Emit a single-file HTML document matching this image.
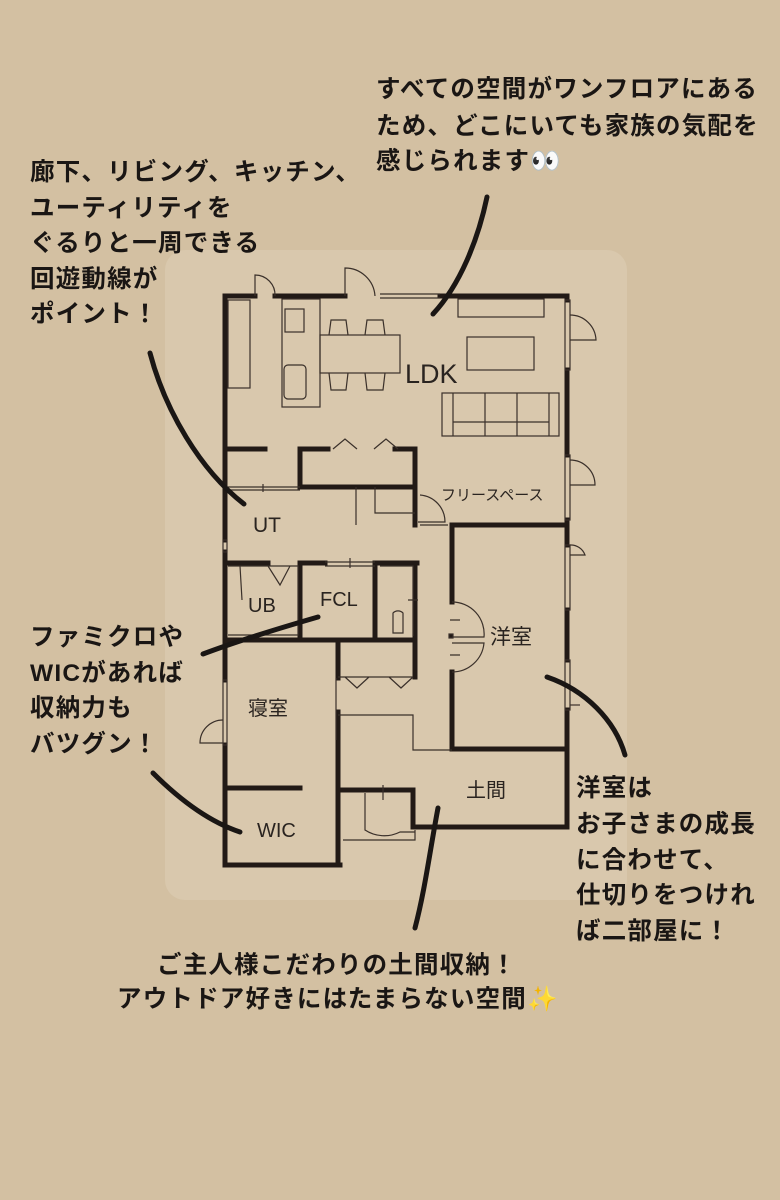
<!DOCTYPE html>
<html><head><meta charset="utf-8"><style>
html,body{margin:0;padding:0;background:#d3c0a2;}
svg{display:block}
.t{font-family:"Liberation Sans","Noto Sans CJK JP",sans-serif;font-size:24.5px;letter-spacing:1.2px;fill:#1a1614;font-weight:bold}
.r{font-family:"Liberation Sans","Noto Sans CJK JP",sans-serif;fill:#2a2420}
</style></head><body>
<svg width="780" height="1200" viewBox="0 0 780 1200" xmlns="http://www.w3.org/2000/svg">
<rect width="780" height="1200" fill="#d3c0a2"/>
<rect x="165" y="250" width="462" height="650" fill="#d9c8ad" rx="20"/>
<g stroke="#221a16" stroke-width="5" fill="none" stroke-linecap="square">
<path d="M225 296H255M275 296H345M440 296H567"/>
<path d="M567 296V300M567 370V455M567 520V545M567 610V660M567 710V827"/>
<path d="M225 296V540M225 552V680M225 745V865H340"/>
<path d="M338 640V678M338 712V865"/>
<path d="M338 790H413V827H565"/>
<path d="M452 525V602M452 672V749H567M452 525H567"/>
<path d="M225 449H265"/>
<path d="M300 449V487H415V449H395M300 449H328"/>
<path d="M415 487V525"/>
<path d="M225 563H268M300 563H325M375 563H417"/>
<path d="M300 563V640M375 563V640M415 563V677M225 640H415"/>
<path d="M225 788H300"/>
</g>
<g stroke="#3a302a" stroke-width="1.2" fill="none">
<path d="M380 294H440M380 298H440"/>
<path d="M255 296V275A20 20 0 0 1 275 296M345 296V268A30 30 0 0 1 375 296"/>
<rect x="565" y="300" width="5" height="70"/><path d="M570 340H596A26 26 0 0 0 570 315"/>
<rect x="565" y="455" width="5" height="65"/><path d="M570 485H595A25 25 0 0 0 570 460"/>
<rect x="565" y="545" width="5" height="65"/><path d="M570 555H585A15 15 0 0 0 570 545"/>
<rect x="565" y="660" width="5" height="50"/><path d="M570 705H580"/>
<rect x="223" y="680" width="4" height="65"/><path d="M223 743H200A23 23 0 0 1 223 720"/>
<rect x="223" y="540" width="4" height="12"/>
<rect x="228" y="300" width="22" height="88"/>
<rect x="282" y="299" width="38" height="108"/>
<rect x="285" y="309" width="19" height="23"/><rect x="284" y="365" width="22" height="34" rx="4"/>
<rect x="320" y="335" width="80" height="38"/>
<path d="M329 335L331 320H346L348 335M365 335L367 320H383L385 335M329 373L331 390H346L348 373M365 373L367 390H383L385 373"/>
<rect x="458" y="299" width="86" height="18"/>
<rect x="467" y="337" width="67" height="33"/>
<rect x="442" y="393" width="117" height="43"/>
<path d="M453 393V436M485 393V436M517 393V436M549 393V436M453 422H549"/>
<path d="M333 449L345 439L357 449M374 449L386 439L398 449"/>
<path d="M228 487H300M228 490H300M263 484V492M356 487V525M375 487V513H415"/>
<path d="M420 495A27 27 0 0 1 445 522H418M420 525H448"/>
<path d="M228 566H298V635H228M240 566L242 600M268 566L280 585L290 566"/>
<path d="M325 562H375M325 566H375M350 558V568"/>
<path d="M380 566H413V636M393 613A7 7 0 0 1 403 613V633H393Z M408 600H418"/>
<path d="M452 602A32 32 0 0 1 484 637H452M452 672A32 32 0 0 0 484 643H452M450 620H460M450 655H460"/>
<rect x="449" y="634" width="4" height="4" fill="#221a16"/>
<path d="M338 677H413M345 677L357 688L369 677M389 677L401 688L413 677"/>
<path d="M336 678V740M338 715H413V750H452"/>
<path d="M365 793V830A35 35 0 0 0 400 832H415M383 785V800M415 830V840H343"/>
</g>
<g class="r">
<text x="405" y="383" font-size="27">LDK</text>
<text x="253" y="532" font-size="21">UT</text>
<text x="248" y="612" font-size="20">UB</text>
<text x="320" y="606" font-size="20">FCL</text>
<text x="490" y="644" font-size="21">洋室</text>
<text x="248" y="715" font-size="20">寝室</text>
<text x="466" y="797" font-size="20">土間</text>
<text x="257" y="837" font-size="20">WIC</text>
<text x="441" y="500" font-size="15">フリースペース</text>
</g>
<g stroke="#1a1614" stroke-width="5" fill="none" stroke-linecap="round">
<path d="M487 197C478 240 460 285 433 314"/>
<path d="M150 353C165 410 200 470 244 504"/>
<path d="M203 654C240 640 280 628 318 617"/>
<path d="M153 773C180 800 210 822 240 832"/>
<path d="M547 677C585 690 615 720 625 755"/>
<path d="M438 808C430 850 425 890 415 928"/>
</g>
<g class="t">
<text x="376" y="97">すべての空間がワンフロアにある</text>
<text x="376" y="134">ため、どこにいても家族の気配を</text>
<text x="376" y="169">感じられます👀</text>
<text x="30" y="180">廊下、リビング、キッチン、</text>
<text x="30" y="216">ユーティリティを</text>
<text x="30" y="251">ぐるりと一周できる</text>
<text x="30" y="287">回遊動線が</text>
<text x="30" y="322">ポイント！</text>
<text x="30" y="645">ファミクロや</text>
<text x="30" y="681">WICがあれば</text>
<text x="30" y="716">収納力も</text>
<text x="30" y="752">バツグン！</text>
<text x="576" y="796">洋室は</text>
<text x="576" y="832">お子さまの成長</text>
<text x="576" y="868">に合わせて、</text>
<text x="576" y="903">仕切りをつけれ</text>
<text x="576" y="939">ば二部屋に！</text>
<text x="157" y="973">ご主人様こだわりの土間収納！</text>
<text x="117" y="1007">アウトドア好きにはたまらない空間✨</text>
</g>
</svg>
</body></html>
